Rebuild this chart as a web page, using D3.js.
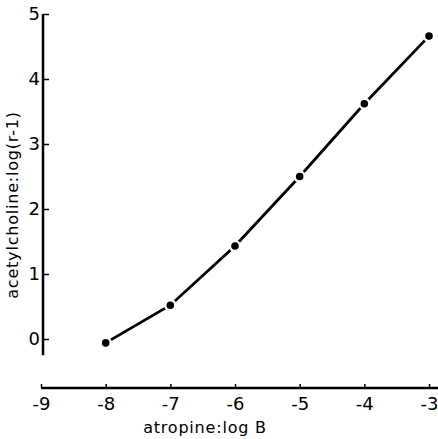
<!DOCTYPE html>
<html>
<head>
<meta charset="utf-8">
<script src="https://cdn.jsdelivr.net/npm/d3@7"></script>
<style>
    body { margin: 0; background: #fff; }
    svg text { font-family: "DejaVu Sans", "Liberation Sans", sans-serif; fill: #000; }
    .axis path { display: none; }
    .axis line { stroke: #000; stroke-width: 1.5; }
</style>
</head>
<body>
<div id="chart"></div>
<script>
// values
let logB = [-8, -7, -6, -5, -4, -3]
let logR = [-0.06, 0.52, 1.43, 2.5, 3.62, 4.66]
let xTicks = [-9, -8, -7, -6, -5, -4, -3]
let yTicks = [0, 1, 2, 3, 4, 5]

let width = 438
let height = 439

let svg = d3.select('#chart').append('svg')
    .attr('width', width)
    .attr('height', height)

let xScale = d3.scaleLinear().domain([-9, -3]).range([41, 429])
let yScale = d3.scaleLinear().domain([0, 5]).range([339, 14])

// y axis, ticks pointing inwards
let yAxis = svg.append('g')
    .attr('class', 'axis')
    .attr('transform', 'translate(43,0)')
    .call(d3.axisLeft(yScale).tickValues(yTicks).tickFormat(d3.format('d'))
        .tickSizeInner(-6).tickSizeOuter(0).tickPadding(3))
yAxis.selectAll('text').style('font-size', '18px')

svg.append('line')
    .attr('x1', 43).attr('x2', 43)
    .attr('y1', yScale(5)).attr('y2', yScale(-0.25))
    .attr('stroke', '#000').attr('stroke-width', 2.5)

// x axis, ticks pointing up
let xAxis = svg.append('g')
    .attr('class', 'axis')
    .attr('transform', 'translate(0,388)')
    .call(d3.axisBottom(xScale).tickValues(xTicks).tickFormat(d => '-' + Math.abs(d))
        .tickSizeInner(-4).tickSizeOuter(0).tickPadding(9))
xAxis.selectAll('text').style('font-size', '18px')

svg.append('line')
    .attr('x1', xScale(-9)).attr('x2', width)
    .attr('y1', 388).attr('y2', 388)
    .attr('stroke', '#000').attr('stroke-width', 2.5)

// titles
svg.append('text')
    .attr('x', 205).attr('y', 433)
    .attr('text-anchor', 'middle')
    .style('font-size', '16px')
    .style('letter-spacing', '0.8px')
    .text('atropine:log B')

svg.append('text')
    .attr('transform', 'translate(18,205) rotate(-90)')
    .attr('text-anchor', 'middle')
    .style('font-size', '16px')
    .style('letter-spacing', '0.8px')
    .text('acetylcholine:log(r-1)')

// data
let points = logB.map((b, i) => ({ x: b, y: logR[i] }))

let line = d3.line()
    .x(d => xScale(d.x))
    .y(d => yScale(d.y))

svg.append('path')
    .datum(points)
    .attr('d', line)
    .attr('fill', 'none')
    .attr('stroke', '#000')
    .attr('stroke-width', 2.8)

svg.selectAll('.dot')
    .data(points)
    .enter().append('circle')
    .attr('class', 'dot')
    .attr('cx', d => xScale(d.x))
    .attr('cy', d => yScale(d.y))
    .attr('r', 5)
    .attr('fill', '#000')
    .attr('stroke', '#fff')
    .attr('stroke-width', 2.4)
</script>
</body>
</html>
